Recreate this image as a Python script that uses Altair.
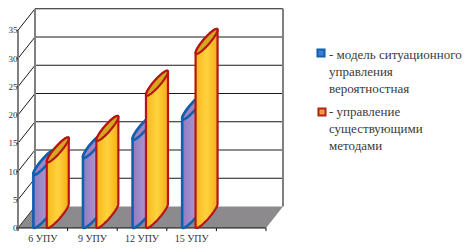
import math
import altair as alt
import pandas as pd

categories = ["6 УПУ", "9 УПУ", "12 УПУ", "15 УПУ"]
model_values = [9.4, 12.4, 15.6, 19.2]
current_values = [11.6, 15.4, 23.4, 30.8]
y_ticks = [0, 5, 10, 15, 20, 25, 30, 35]
legend_rows = [
    ("- модель ситуационного", 329, 60),
    ("управления", 329, 77),
    ("вероятностная", 329, 94),
    ("- управление", 329, 117),
    ("существующими", 329, 134),
    ("методами", 329, 151),
]

PX_X = 49.6
PX_Y = 5.65
DX = 17 / PX_X
DY = 21.5 / PX_Y
N_CAT = 5
xs = alt.Scale(domain=[-10 / PX_X, 446 / PX_X], nice=False, zero=False)
ys = alt.Scale(domain=[-16 / PX_Y, 220 / PX_Y], nice=False, zero=False)
X = alt.X("x:Q", scale=xs, axis=None)
Y = alt.Y("y:Q", scale=ys, axis=None)


def rule_layer(rows, color, width):
    df = pd.DataFrame(rows, columns=["x", "y", "g"])
    return alt.Chart(df).mark_line(color=color, strokeWidth=width).encode(x=X, y=Y, detail="g:N")


layers = []
top = max(y_ticks)

wall = pd.DataFrame({"x": [DX, N_CAT + DX], "y": [DY, DY], "y2": [top + DY, top + DY]})
layers.append(alt.Chart(wall).mark_area(color="white", orient="vertical").encode(x=X, y=Y, y2="y2:Q"))

floor = pd.DataFrame({
    "x": [0, DX, N_CAT, N_CAT + DX],
    "y": [0, 0, 0, DY],
    "y2": [0, DY, DY, DY],
})
layers.append(alt.Chart(floor).mark_area(color="#8c8a8c", orient="vertical").encode(x=X, y=Y, y2="y2:Q"))

grid = [(DX, v + DY, v) for v in y_ticks[1:]] + [(N_CAT + DX, v + DY, v) for v in y_ticks[1:]]
layers.append(rule_layer(grid, "#1a1a1a", 1))
diag = []
for v in y_ticks[1:]:
    diag += [(0, v, v), (DX, v + DY, v)]
layers.append(rule_layer(diag, "#1a1a1a", 1))
layers.append(rule_layer([(0, 0, 0), (DX, DY, 0)], "#333333", 1))

verts = [(0, 0, "a"), (0, top, "a"), (DX, DY, "b"), (DX, top + DY, "b"),
         (N_CAT + DX, DY, "c"), (N_CAT + DX, top + DY, "c")]
df_v = pd.DataFrame(verts, columns=["x", "y", "g"])
layers.append(alt.Chart(df_v).mark_line(color="#808080", strokeWidth=2).encode(x=X, y=Y, detail="g:N"))

tk = pd.DataFrame({"x": list(range(N_CAT + 1)), "y": [0.0] * (N_CAT + 1), "y2": [-0.55] * (N_CAT + 1)})
layers.append(rule_layer([(0, 0, 0), (N_CAT, 0, 0)], "#111111", 1.2))
layers.append(alt.Chart(tk).mark_rule(color="#111111").encode(x=X, y=Y, y2="y2:Q"))
yt = pd.DataFrame({"y": y_ticks, "x": [0] * len(y_ticks), "x0": [-0.03] * len(y_ticks)})
layers.append(alt.Chart(yt).mark_rule(color="#222222").encode(x=X, x2="x0:Q", y=Y))

W = 22 / PX_X
R = W / 2
SLANT = 11.5 / PX_Y
BULGE = 5 / PX_Y
TIP = math.hypot(11.5, 5) / PX_Y
ts = [math.pi * (1 - k / 24) for k in range(25)]

orange_side = alt.Gradient(gradient="linear", x1=0, x2=1, y1=0, y2=0, stops=[
    alt.GradientStop(offset=0, color="#f6b71e"), alt.GradientStop(offset=0.5, color="#ffd23c"),
    alt.GradientStop(offset=1, color="#f2ae1a")])
purple_side = alt.Gradient(gradient="linear", x1=0, x2=1, y1=0, y2=0, stops=[
    alt.GradientStop(offset=0, color="#8e7cc0"), alt.GradientStop(offset=0.6, color="#ab93cf"),
    alt.GradientStop(offset=1, color="#9a86c6")])


def cylinder(left, value, side, cap, stroke, sw):
    cx = left + R
    c0 = TIP
    c1 = value
    body, capr = [], []
    for t in ts:
        c, s = math.cos(t), math.sin(t)
        x = cx + R * c
        body.append((x, c0 + SLANT * c - BULGE * s, c1 + SLANT * c + BULGE * s))
        capr.append((x, c1 + SLANT * c - BULGE * s, c1 + SLANT * c + BULGE * s))
    b = pd.DataFrame(body, columns=["x", "y", "y2"])
    k = pd.DataFrame(capr, columns=["x", "y", "y2"])
    return [
        alt.Chart(b).mark_area(color=side, stroke=stroke, strokeWidth=sw, orient="vertical").encode(x=X, y=Y, y2="y2:Q"),
        alt.Chart(k).mark_area(color=cap, stroke=stroke, strokeWidth=sw, orient="vertical").encode(x=X, y=Y, y2="y2:Q"),
    ]


for i, (a, b) in enumerate(zip(model_values, current_values)):
    layers += cylinder(i + 0.31, a + TIP, purple_side, "#a184c4", "#1060b0", 2.6)
    layers += cylinder(i + 0.58, b + TIP, orange_side, "#d4a81e", "#b81414", 2.2)

ylab = pd.DataFrame({"y": y_ticks, "t": [str(v) for v in y_ticks], "x": [-0.01] * len(y_ticks)})
layers.append(alt.Chart(ylab).mark_text(align="right", baseline="middle", font="Liberation Serif",
                                        fontSize=9, color="#333333").encode(x=X, y=Y, text="t:N"))
xlab = pd.DataFrame({"x": [i + 0.5 for i in range(4)], "t": categories, "y": [-1.95] * 4})
layers.append(alt.Chart(xlab).mark_text(align="center", baseline="middle", font="Liberation Serif",
                                        fontSize=10, color="#333333").encode(x=X, y=Y, text="t:N"))

swatch = pd.DataFrame({"k": [0]})
layers.append(alt.Chart(swatch).mark_point(shape="square", filled=True, size=50, fill="#3f7fd0",
                                           stroke="#1060b0", strokeWidth=2, opacity=1).encode(
    x=alt.value(313), y=alt.value(45)))
layers.append(alt.Chart(swatch).mark_point(shape="square", filled=True, size=50, fill="#f49a4a",
                                           stroke="#b02810", strokeWidth=2, opacity=1).encode(
    x=alt.value(314), y=alt.value(104)))
for text, px, py in legend_rows:
    df = pd.DataFrame({"t": [text]})
    layers.append(alt.Chart(df).mark_text(align="left", baseline="alphabetic", font="Liberation Serif",
                                          fontSize=13, color="#3a3a3a").encode(
        x=alt.value(px - 8), y=alt.value(py - 8 - 1), text="t:N"))

chart = alt.layer(*layers).properties(
    width=456, height=236, padding=0, autosize=alt.AutoSizeParams(type="none"),
    background="white",
).configure_view(stroke=None)

chart.save("out.html", embed_options={"renderer": "svg", "actions": False})
